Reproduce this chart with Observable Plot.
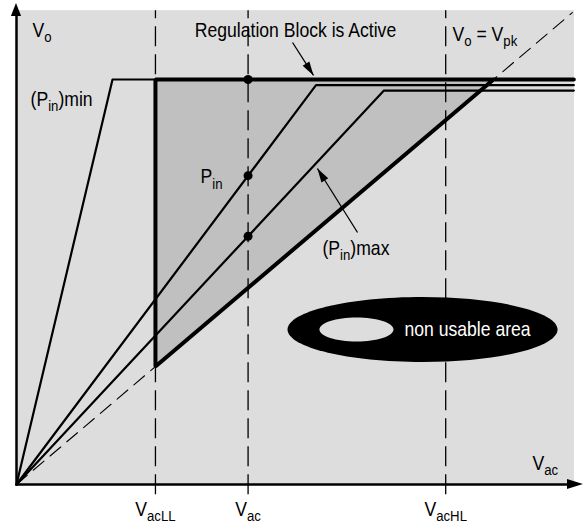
<!DOCTYPE html>
<html>
<head>
<meta charset="utf-8">
<script src="https://cdn.jsdelivr.net/npm/d3@7"></script>
<script src="https://cdn.jsdelivr.net/npm/@observablehq/plot@0.6"></script>
<style>
  html, body { margin: 0; padding: 0; background: white; }
</style>
</head>
<body>
<div id="chart"></div>
<script>
// ---- data (schematic units: x = Vac, y = Vo) ----
const xDomain = [-10.36, 367.9];
const yDomain = [-39.5, 478.0];
const panelX = [0, 361.4];
const panelY = [0, 468];

const xTicks = [90, 150, 278];
const xTickLabels = ["V_{acLL}", "V_{ac}", "V_{acHL}"];
const tickLabelY = -24.3;
const dashTop = 468, dashBottom = -10;

const pinMinX = [0, 62.2, 90];
const pinMinY = [0, 400, 400];
const pinX = [0, 194, 361];
const pinY = [0, 394.4, 394.4];
const pinMaxX = [0, 238, 361];
const pinMaxY = [0, 389, 389];

const boundX = [361, 90, 90, 309];
const boundY = [400, 400, 116.5, 400];

const shadeX = [90, 309];
const shadeLo = [116.5, 400];
const shadeHi = [400, 400];

const vpkX = [0, 360];
const vpkY = [0, 466];

const dotX = [150, 150, 150];
const dotY = [400, 305, 245.2];

const yAxisX = [0, 0], yAxisY = [0, 462.2];
const yHeadY = [462.2, 475], yHeadHalf = [3.3, 0];
const xAxisX = [0, 357], xAxisY = [0, 0];
const xHeadX = [356.9, 367.2], xHeadHalf = [4.9, 0];

const labelText = ["V_{o}", "(P_{in})min", "Regulation Block is Active", "V_{o} = V_{pk}", "P_{in}", "(P_{in})max", "V_{ac}"];
const labelX = [10.4, 9.1, 180.7, 282.4, 119.2, 198.2, 334.2];
const labelY = [447.8, 379.7, 447.8, 444.8, 303.6, 232.5, 21.1];
const labelAnchor = ["start", "start", "middle", "start", "start", "start", "start"];

const arrowX1 = [178.8, 220.9], arrowY1 = [436.5, 248.9];
const arrowX2 = [192.4, 194.9], arrowY2 = [404.0, 312.1];

const ellipseX = [263, 220.2], ellipseY = [153, 153];
const ellipseRx = [135, 37], ellipseRy = [32.5, 12];
const nonUsableText = "non usable area";
const nonUsableX = 251.3, nonUsableY = 153;

// ---- build ----
const W = 584, H = 524;
const xpx = u => (u - xDomain[0]) / (xDomain[1] - xDomain[0]) * W;
const ypx = v => H - (v - yDomain[0]) / (yDomain[1] - yDomain[0]) * H;

const pts = (xs, ys) => xs.map((x, i) => ({x, y: ys[i]}));
const labels = labelText.map((t, i) => ({t, x: labelX[i], y: labelY[i], a: labelAnchor[i]}));
const ticks = xTicks.map((x, i) => ({x, t: xTickLabels[i]}));
const arrows = arrowX1.map((x1, i) => {
  const dx = xpx(arrowX2[i]) - xpx(x1), dy = ypx(arrowY2[i]) - ypx(arrowY1[i]);
  return {x1, y1: arrowY1[i], x2: arrowX2[i], y2: arrowY2[i], rot: Math.atan2(dx, -dy) * 180 / Math.PI};
});
const ellipseSymbol = (rx, ry) => ({
  draw(ctx) {
    const k = 0.5523;
    ctx.moveTo(rx, 0);
    ctx.bezierCurveTo(rx, k * ry, k * rx, ry, 0, ry);
    ctx.bezierCurveTo(-k * rx, ry, -rx, k * ry, -rx, 0);
    ctx.bezierCurveTo(-rx, -k * ry, -k * rx, -ry, 0, -ry);
    ctx.bezierCurveTo(k * rx, -ry, rx, -k * ry, rx, 0);
    ctx.closePath();
  }
});

const FONT = "'Liberation Sans', Arial, sans-serif";
const NARROW = 0.88;

const plot = Plot.plot({
  width: W, height: H,
  margin: 0,
  x: {domain: xDomain, axis: null},
  y: {domain: yDomain, axis: null},
  style: {fontFamily: FONT, background: "white", color: "black"},
  marks: [
    Plot.rect([{x1: panelX[0], x2: panelX[1], y1: panelY[0], y2: panelY[1]}], {x1: "x1", x2: "x2", y1: "y1", y2: "y2", fill: "#dddddd"}),
    Plot.areaY(shadeX.map((x, i) => ({x, lo: shadeLo[i], hi: shadeHi[i]})), {x: "x", y1: "lo", y2: "hi", fill: "#c0c0c0"}),
    Plot.ruleX(xTicks, {y1: dashBottom, y2: dashTop, stroke: "black", strokeWidth: 1.3, strokeDasharray: "20,8"}),
    Plot.line(pts(vpkX, vpkY), {x: "x", y: "y", stroke: "black", strokeWidth: 1.1, strokeDasharray: "14,8"}),
    Plot.line(pts(pinMinX, pinMinY), {x: "x", y: "y", stroke: "black", strokeWidth: 2.2}),
    Plot.line(pts(pinX, pinY), {x: "x", y: "y", stroke: "black", strokeWidth: 2.2}),
    Plot.line(pts(pinMaxX, pinMaxY), {x: "x", y: "y", stroke: "black", strokeWidth: 2.2}),
    Plot.line(pts(boundX, boundY), {x: "x", y: "y", stroke: "black", strokeWidth: 4, strokeLinejoin: "miter"}),
    Plot.line(pts(yAxisX, yAxisY), {x: "x", y: "y", stroke: "black", strokeWidth: 2.5}),
    Plot.line(pts(xAxisX, xAxisY), {x: "x", y: "y", stroke: "black", strokeWidth: 2.5}),
    Plot.areaX(yHeadY.map((y, i) => ({y, a: -yHeadHalf[i], b: yHeadHalf[i]})), {y: "y", x1: "a", x2: "b", fill: "black"}),
    Plot.areaY(xHeadX.map((x, i) => ({x, a: -xHeadHalf[i], b: xHeadHalf[i]})), {x: "x", y1: "a", y2: "b", fill: "black"}),
    Plot.dot(pts(dotX, dotY), {x: "x", y: "y", r: 4.5, fill: "black"}),
    Plot.link(arrows, {x1: "x1", y1: "y1", x2: "x2", y2: "y2", stroke: "black", strokeWidth: 1.3}),
    Plot.vector(arrows, {x: "x2", y: "y2", rotate: "rot", length: 14, r: 4, shape: "spike", anchor: "end", fill: "black", stroke: "none"}),
    Plot.dot([{x: ellipseX[0], y: ellipseY[0]}], {x: "x", y: "y", symbol: ellipseSymbol(ellipseRx[0], ellipseRy[0]), fill: "black", stroke: "none"}),
    Plot.dot([{x: ellipseX[1], y: ellipseY[1]}], {x: "x", y: "y", symbol: ellipseSymbol(ellipseRx[1], ellipseRy[1]), fill: "#dddddd", stroke: "none"}),
    Plot.text([nonUsableText], {x: nonUsableX, y: nonUsableY, text: d => d, textAnchor: "start", fill: "white", fontSize: 20}),
    Plot.text(labels.filter(d => d.a === "start"), {x: "x", y: "y", text: "t", textAnchor: "start", fill: "black", fontSize: 20}),
    Plot.text(labels.filter(d => d.a === "middle"), {x: "x", y: "y", text: "t", textAnchor: "middle", fill: "black", fontSize: 20}),
    Plot.text(ticks, {x: "x", y: tickLabelY, text: "t", textAnchor: "middle", fill: "black", fontSize: 20})
  ]
});

document.getElementById("chart").appendChild(plot);

// subscripts: convert "_{...}" to tspans; condense glyphs horizontally
plot.querySelectorAll("text").forEach(t => {
  const s = t.textContent;
  if (s.includes("_{")) {
    t.textContent = "";
    const parts = s.split(/(_\{[^}]*\})/).filter(p => p.length);
    let prevSub = false;
    parts.forEach(p => {
      const ts = document.createElementNS("http://www.w3.org/2000/svg", "tspan");
      if (p.startsWith("_{")) {
        ts.textContent = p.slice(2, -1);
        ts.setAttribute("font-size", "15");
        ts.setAttribute("dy", "5");
        prevSub = true;
      } else {
        ts.textContent = p;
        if (prevSub) ts.setAttribute("dy", "-5");
        prevSub = false;
      }
      t.appendChild(ts);
    });
  }
  const ax = parseFloat(t.getAttribute("x")) || 0;
  const existing = t.getAttribute("transform") || "";
  t.setAttribute("transform", `${existing} translate(${ax},0) scale(${NARROW},1) translate(${-ax},0)`.trim());
});
</script>
</body>
</html>
